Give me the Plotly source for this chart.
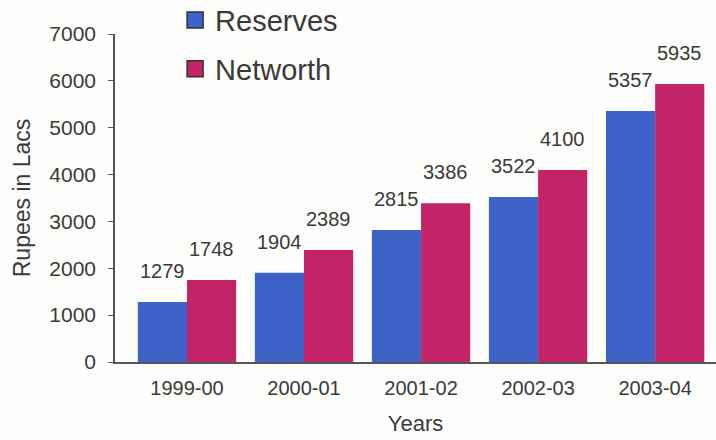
import plotly.graph_objects as go

years = ["1999-00", "2000-01", "2001-02", "2002-03", "2003-04"]
reserves = [1279, 1904, 2815, 3522, 5357]
networth = [1748, 2389, 3386, 4100, 5935]
y_ticks = [0, 1000, 2000, 3000, 4000, 5000, 6000, 7000]

BLUE = "#3d62c8"
RED = "#c32467"
TXT = "#3a3a3a"
FONT = "Liberation Sans, Arial, sans-serif"

fig = go.Figure()
fig.add_trace(go.Bar(name="Reserves", x=years, y=reserves, marker=dict(color=BLUE, line=dict(width=0)), showlegend=False))
fig.add_trace(go.Bar(name="Networth", x=years, y=networth, marker=dict(color=RED, line=dict(width=0)), showlegend=False))
# legend swatches
for nm, col, grp in (("Reserves", BLUE, "a"), ("Networth", RED, "b")):
    fig.add_trace(go.Scatter(name=nm, x=[None], y=[None], mode="markers", legendgroup=grp,
                             marker=dict(symbol="square", size=21, color=col, line=dict(color="#333", width=1.5))))

annotations = []
for i, yr in enumerate(years):
    for val, sh in ((reserves[i], -24.5), (networth[i], 24.5)):
        annotations.append(dict(x=yr, y=val, xref="x", yref="y", text=str(val), showarrow=False,
                                xshift=sh, yshift=31, yanchor="middle",
                                font=dict(size=20, color=TXT, family=FONT)))

fig.update_layout(
    width=716, height=440,
    margin=dict(l=115, r=0, t=34, b=78, autoexpand=False),
    paper_bgcolor="#fdfdfb", plot_bgcolor="#fdfdfb",
    barmode="group", bargap=0.16, bargroupgap=0,
    font=dict(family=FONT, color=TXT),
    showlegend=True,
    legend=dict(x=0.1, y=1.12, xanchor="left", yanchor="top",
                font=dict(size=29, color=TXT, family=FONT),
                tracegroupgap=8, itemwidth=30, bgcolor="rgba(0,0,0,0)"),
    annotations=annotations,
    xaxis=dict(type="category", range=[-0.615, 4.52], showline=True, linecolor="#555", linewidth=1.5,
               showgrid=False, ticks="", ticklabelstandoff=7, tickfont=dict(size=20, color=TXT),
               title=dict(text="Years", font=dict(size=22, color=TXT), standoff=18)),
    yaxis=dict(range=[0, 7000], tickvals=y_ticks, showline=True, linecolor="#555", linewidth=1.5,
               showgrid=False, zeroline=False, ticks="outside", ticklen=5, tickcolor="#555",
               ticklabelstandoff=8,
               tickfont=dict(size=21, color=TXT),
               title=dict(text="Rupees in Lacs", font=dict(size=23, color=TXT), standoff=12)),
)

fig.write_html("out.html")
